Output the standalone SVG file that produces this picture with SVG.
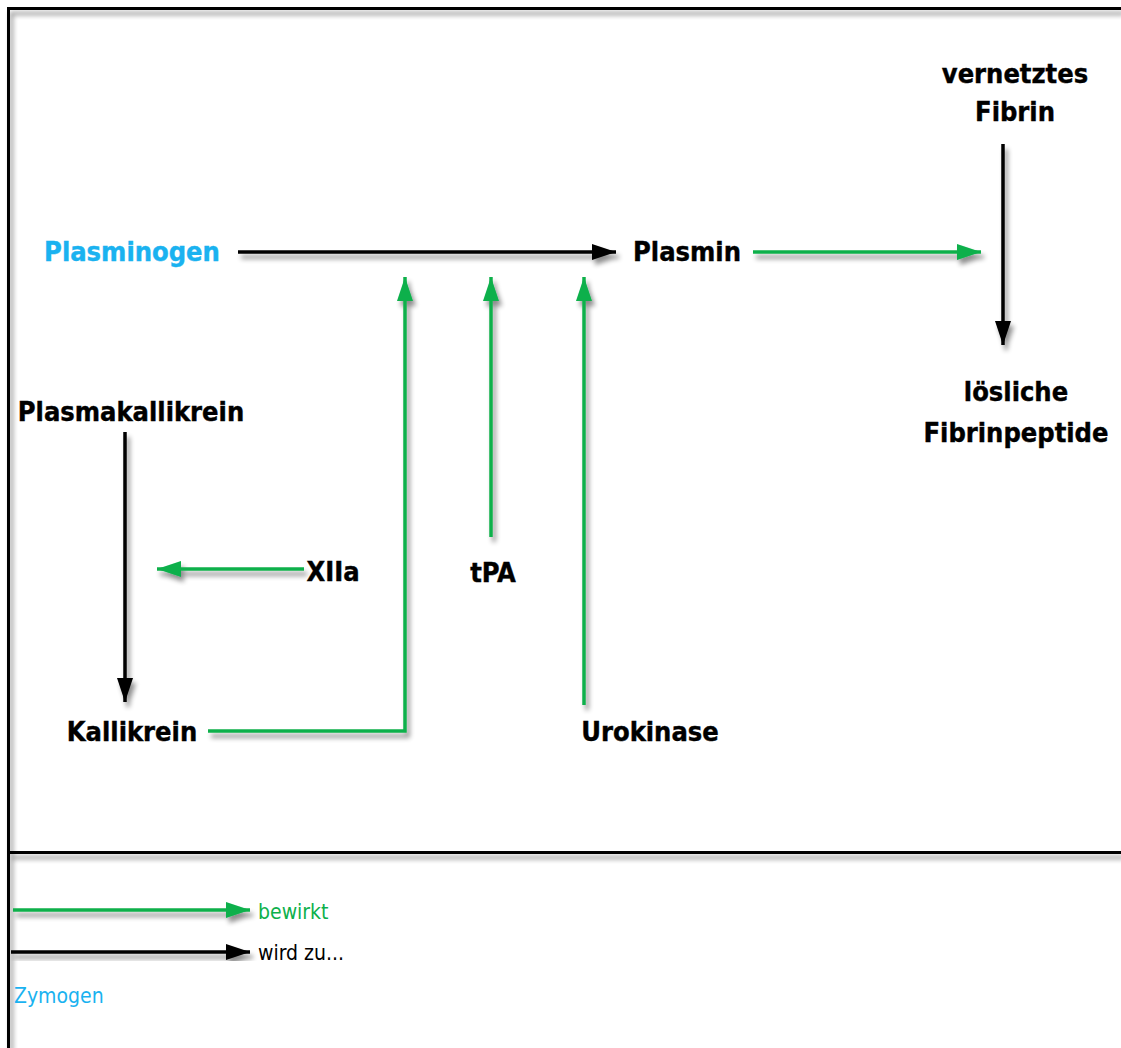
<svg xmlns="http://www.w3.org/2000/svg" width="1121" height="1048" viewBox="0 0 1121 1048">
  <defs>
    <filter id="shadow" x="-20%" y="-20%" width="140%" height="140%">
      <feGaussianBlur in="SourceAlpha" stdDeviation="2.5"/>
      <feOffset dx="3" dy="5" result="blur"/>
      <feComponentTransfer><feFuncA type="linear" slope="0.45"/></feComponentTransfer>
      <feMerge><feMergeNode/><feMergeNode in="SourceGraphic"/></feMerge>
    </filter>
    <marker id="headGreen" viewBox="0 0 24 16" refX="24" refY="8" markerWidth="24" markerHeight="16" markerUnits="userSpaceOnUse" orient="auto">
      <path d="M0,0 L24,8 L0,16 Z" fill="#0DB04B"/>
    </marker>
    <marker id="headBlack" viewBox="0 0 24 16" refX="24" refY="8" markerWidth="24" markerHeight="16" markerUnits="userSpaceOnUse" orient="auto">
      <path d="M0,0 L24,8 L0,16 Z" fill="#000"/>
    </marker>
  </defs>
  <style>
    .lbl { font-family: "DejaVu Sans Condensed", "DejaVu Sans", sans-serif; font-stretch: condensed; font-weight: bold; font-size: 27px; fill: #000; stroke: #000; stroke-width: 0.4; text-anchor: middle; }
    .zym { fill: #1AB2F0; stroke: #1AB2F0; }
    .leg { font-family: "DejaVu Sans Condensed", "DejaVu Sans", sans-serif; font-stretch: condensed; font-size: 21px; }
    .frame { stroke: #000; stroke-width: 3; fill: none; }
    .act { stroke: #0DB04B; stroke-width: 3.5; fill: none; marker-end: url(#headGreen); }
    .conv { stroke: #000; stroke-width: 3.5; fill: none; marker-end: url(#headBlack); }
  </style>

  <rect width="1121" height="1048" fill="#fff"/>

  <!-- frame and legend divider -->
  <g id="frame" filter="url(#shadow)">
    <path class="frame" d="M8.5,1048 V8.5 H1121"/>
    <path class="frame" d="M10,852.5 H1121"/>
  </g>

  <!-- connectors -->
  <g id="connectors" filter="url(#shadow)">
    <path class="conv" d="M238,252 H616"/>
    <path class="act" d="M753,252 H981"/>
    <path class="conv" d="M1003,144 V345"/>
    <path class="conv" d="M125,432 V702"/>
    <path class="act" d="M304,569 H157"/>
    <path class="act" d="M491,537 V277"/>
    <path class="act" d="M208,731 H405 V277"/>
    <path class="act" d="M584,705 V277"/>
  </g>

  <!-- nodes -->
  <g id="plasminogen"><text class="lbl zym" x="132" y="261">Plasminogen</text></g>
  <g id="plasmin"><text class="lbl" x="687" y="261">Plasmin</text></g>
  <g id="vernetztes-fibrin">
    <text class="lbl" x="1015" y="83">vernetztes</text>
    <text class="lbl" x="1015" y="121">Fibrin</text>
  </g>
  <g id="loesliche-fibrinpeptide">
    <text class="lbl" x="1016" y="401">lösliche</text>
    <text class="lbl" x="1016" y="442">Fibrinpeptide</text>
  </g>
  <g id="plasmakallikrein"><text class="lbl" x="131" y="421">Plasmakallikrein</text></g>
  <g id="xiia"><text class="lbl" x="333" y="581">XIIa</text></g>
  <g id="tpa"><text class="lbl" x="493" y="582">tPA</text></g>
  <g id="kallikrein"><text class="lbl" x="132" y="741">Kallikrein</text></g>
  <g id="urokinase"><text class="lbl" x="650" y="741">Urokinase</text></g>

  <!-- legend -->
  <g id="legend">
    <g filter="url(#shadow)">
      <path class="act" d="M13,910 H250"/>
      <path class="conv" d="M11,952 H250"/>
    </g>
    <text class="leg" x="258" y="919" fill="#0DB04B">bewirkt</text>
    <text class="leg" x="258" y="960" fill="#000">wird zu...</text>
    <text class="leg" x="14" y="1003" fill="#1AB2F0">Zymogen</text>
  </g>
</svg>
